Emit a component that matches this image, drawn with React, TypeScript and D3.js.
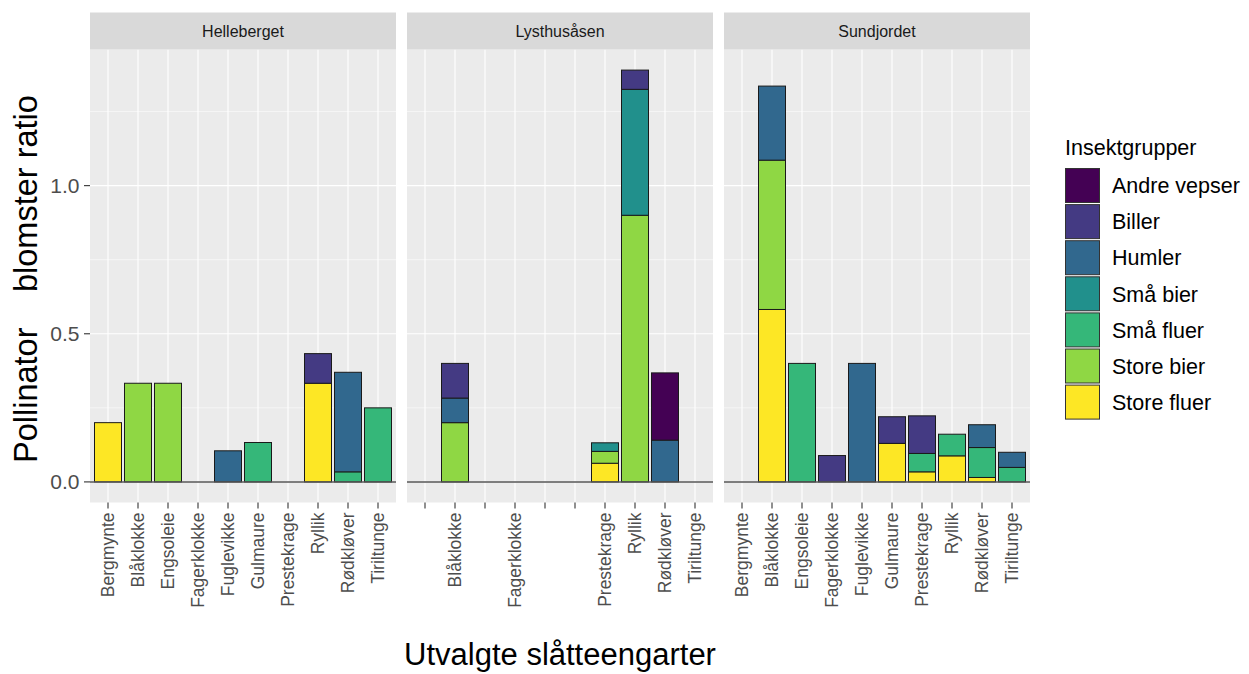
import React from "react";
import * as d3 from "d3";

const categories = ["Bergmynte", "Blåklokke", "Engsoleie", "Fagerklokke", "Fuglevikke", "Gulmaure", "Prestekrage", "Ryllik", "Rødkløver", "Tiriltunge"];
const groups = ["Andre vepser", "Biller", "Humler", "Små bier", "Små fluer", "Store bier", "Store fluer"];
const groupColors = ["#440154", "#443A83", "#31688E", "#21908C", "#35B779", "#8FD744", "#FDE725"];
const sites = ["Helleberget", "Lysthusåsen", "Sundjordet"];

// rows = groups (same order as `groups`), columns = categories
const hellebergetValues: number[][] = [
  [0, 0, 0, 0, 0, 0, 0, 0, 0, 0],
  [0, 0, 0, 0, 0, 0, 0, 0.1, 0, 0],
  [0, 0, 0, 0, 0.105, 0, 0, 0, 0.336, 0],
  [0, 0, 0, 0, 0, 0, 0, 0, 0, 0],
  [0, 0, 0, 0, 0, 0.133, 0, 0, 0.034, 0.25],
  [0, 0.333, 0.333, 0, 0, 0, 0, 0, 0, 0],
  [0.2, 0, 0, 0, 0, 0, 0, 0.333, 0, 0],
];
const lysthusasenValues: number[][] = [
  [0, 0, 0, 0, 0, 0, 0, 0, 0.227, 0],
  [0, 0.117, 0, 0, 0, 0, 0, 0.065, 0, 0],
  [0, 0.083, 0, 0, 0, 0, 0, 0, 0.141, 0],
  [0, 0, 0, 0, 0, 0, 0.029, 0.425, 0, 0],
  [0, 0, 0, 0, 0, 0, 0, 0, 0, 0],
  [0, 0.2, 0, 0, 0, 0, 0.04, 0.9, 0, 0],
  [0, 0, 0, 0, 0, 0, 0.063, 0, 0, 0],
];
const sundjordetValues: number[][] = [
  [0, 0, 0, 0, 0, 0, 0, 0, 0, 0],
  [0, 0, 0, 0.089, 0, 0.09, 0.127, 0, 0, 0],
  [0, 0.25, 0, 0, 0.4, 0, 0, 0, 0.077, 0.051],
  [0, 0, 0, 0, 0, 0, 0, 0, 0, 0],
  [0, 0, 0.4, 0, 0, 0, 0.062, 0.073, 0.101, 0.049],
  [0, 0.504, 0, 0, 0, 0, 0, 0, 0, 0],
  [0, 0.582, 0, 0, 0, 0.13, 0.034, 0.088, 0.015, 0],
];
const siteValues = [hellebergetValues, lysthusasenValues, sundjordetValues];

const hellebergetLabels = categories;
const lysthusasenLabels = ["", "Blåklokke", "", "Fagerklokke", "", "", "Prestekrage", "Ryllik", "Rødkløver", "Tiriltunge"];
const sundjordetLabels = categories;
const siteLabels = [hellebergetLabels, lysthusasenLabels, sundjordetLabels];

const yTicks = [0, 0.5, 1.0];
const yMinorTicks = [0.25, 0.75, 1.25];

const FONT = "Liberation Sans, Arial, sans-serif";

export default function App() {
  const W = 1249, H = 674;
  const panelLeft = 90, panelW = 306, gap = 11;
  const panelTop = 49.5, panelBottom = 502.5;
  const stripTop = 12.5;

  const stacks = siteValues.map((vals) => {
    const rows = categories.map((c, ci) => {
      const r: any = { cat: c };
      groups.forEach((g, gi) => (r[g] = vals[gi][ci]));
      return r;
    });
    const keys = [...groups].reverse(); // bottom: last group
    return d3.stack().keys(keys)(rows);
  });
  const maxTotal = d3.max(siteValues.flatMap((vals) => categories.map((_, ci) => d3.sum(vals, (r) => r[ci])))) as number;
  const y = d3.scaleLinear().domain([-0.05 * maxTotal, 1.05 * maxTotal]).range([panelBottom, panelTop]);

  const fmt = d3.format(".1f");

  return (
    <svg width={W} height={H} style={{ position: "absolute", left: 0, top: 0, background: "#fff" }} fontFamily={FONT}>
      <rect x={0} y={0} width={W} height={H} fill="#fff" />
      {sites.map((site, si) => {
        const x0 = panelLeft + si * (panelW + gap);
        const x = d3.scalePoint<string>().domain(categories).range([x0, x0 + panelW]).padding(0.6);
        const bw = x.step() * 0.9;
        const labels = siteLabels[si];
        return (
          <g key={site}>
            <rect x={x0} y={panelTop} width={panelW} height={panelBottom - panelTop} fill="#EBEBEB" />
            {yMinorTicks.map((t) => (
              <line key={"mn" + t} x1={x0} x2={x0 + panelW} y1={y(t)} y2={y(t)} stroke="#fff" strokeWidth={0.55} />
            ))}
            {yTicks.map((t) => (
              <line key={"mj" + t} x1={x0} x2={x0 + panelW} y1={y(t)} y2={y(t)} stroke="#fff" strokeWidth={1.1} />
            ))}
            {categories.map((c) => (
              <line key={"vx" + c} x1={x(c)} x2={x(c)} y1={panelTop} y2={panelBottom} stroke="#fff" strokeWidth={1.1} />
            ))}
            {stacks[si].map((layer) => {
              const gi = groups.indexOf(layer.key);
              return layer.map((d: any, ci: number) => {
                if (d[1] - d[0] <= 0) return null;
                const c = categories[ci];
                return (
                  <rect
                    key={layer.key + c}
                    x={(x(c) as number) - bw / 2}
                    y={y(d[1])}
                    width={bw}
                    height={y(d[0]) - y(d[1])}
                    fill={groupColors[gi]}
                    stroke="#1a1a1a"
                    strokeWidth={1}
                  />
                );
              });
            })}
            <line x1={x0} x2={x0 + panelW} y1={y(0)} y2={y(0)} stroke="#555" strokeWidth={1.5} />
            <rect x={x0} y={stripTop} width={panelW} height={panelTop - stripTop} fill="#D9D9D9" />
            <text x={x0 + panelW / 2} y={(stripTop + panelTop) / 2} dy="0.35em" textAnchor="middle" fontSize={16} fill="#1A1A1A">
              {site}
            </text>
            {categories.map((c, ci) => (
              <g key={"xt" + c} transform={`translate(${x(c)},${panelBottom})`}>
                <line y1={0} y2={6} stroke="#333" strokeWidth={1.1} />
                <text transform="translate(0,10) rotate(-90)" textAnchor="end" dy="0.35em" fontSize={17.5} fill="#4D4D4D">
                  {labels[ci]}
                </text>
              </g>
            ))}
          </g>
        );
      })}
      {yTicks.map((t) => (
        <g key={"yt" + t} transform={`translate(${panelLeft},${y(t)})`}>
          <line x1={-6} x2={0} stroke="#333" strokeWidth={1.1} />
          <text x={-10.5} dy="0.36em" textAnchor="end" fontSize={21} fill="#4D4D4D">
            {fmt(t)}
          </text>
        </g>
      ))}
      <text transform={`translate(37,463) rotate(-90)`} textAnchor="start" fontSize={32.5} fill="#000">
        Pollinator
      </text>
      <text transform={`translate(37,292) rotate(-90)`} textAnchor="start" fontSize={32.5} fill="#000">
        blomster ratio
      </text>
      <text x={560} y={665} textAnchor="middle" fontSize={31} fill="#000">
        Utvalgte slåtteengarter
      </text>
      <text x={1065} y={155} fontSize={21.5} fill="#000">
        Insektgrupper
      </text>
      {groups.map((g, gi) => {
        const ky = 168.5 + gi * 36.1;
        return (
          <g key={"lg" + g}>
            <rect x={1065.5} y={ky} width={34} height={34} fill={groupColors[gi]} stroke="#333" strokeWidth={1} />
            <text x={1112} y={ky + 17} dy="0.36em" fontSize={21.5} fill="#000">
              {g}
            </text>
          </g>
        );
      })}
    </svg>
  );
}
